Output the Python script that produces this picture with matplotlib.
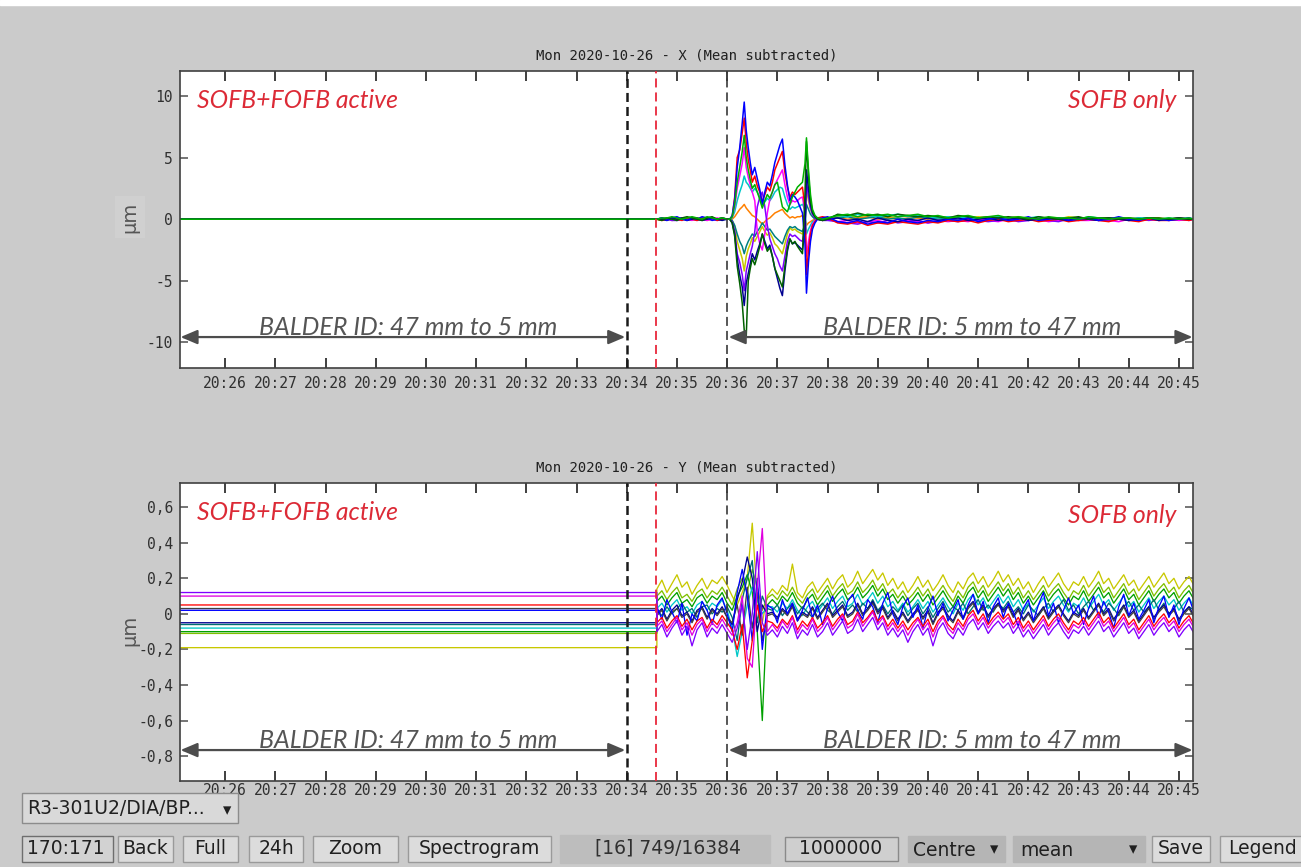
import numpy as np
import matplotlib
matplotlib.use("Agg")
import matplotlib.pyplot as plt
from matplotlib.patches import Rectangle

plt.rcParams["axes.unicode_minus"] = False
plt.rcParams["lines.scale_dashes"] = False

# ======================= DATA =======================
# time axis: minutes after 20:00
minute_ticks = list(range(26, 46))
minute_labels = ["20:%02d" % m for m in minute_ticks]
time_window = (25.10, 45.28)

t_black_1 = 34.00   # ID starts closing / arrow end
t_red = 34.58       # FOFB switched off
t_black_2 = 36.00   # ID starts opening

x_title = "Mon 2020-10-26 - X (Mean subtracted)"
y_title = "Mon 2020-10-26 - Y (Mean subtracted)"

x_yticks = [10, 5, 0, -5, -10]
x_ylabels = ["10", "5", "0", "-5", "-10"]
x_ylim = (-12.07, 12.02)

y_yticks = [0.6, 0.4, 0.2, 0.0, -0.2, -0.4, -0.6, -0.8]
y_ylabels = ["0,6", "0,4", "0,2", "0", "-0,2", "-0,4", "-0,6", "-0,8"]
y_ylim = (-0.94, 0.736)

# ---- X plane (values in tenths of um) ----
x_t_flat = [25.10]
x_t_pre = np.round(np.arange(34.6, 36.01, 0.1), 2)          # 15 samples
x_t_trans = [36.05, 36.10, 36.15, 36.20, 36.25, 36.30, 36.34, 36.38, 36.42, 36.46,
             36.50, 36.55, 36.60, 36.65, 36.70, 36.75, 36.80, 36.85, 36.90, 36.95,
             37.00, 37.05, 37.10, 37.15, 37.20, 37.25, 37.30, 37.35, 37.40, 37.45,
             37.50, 37.55, 37.58, 37.62, 37.66, 37.70, 37.75, 37.80, 37.90, 38.00]
x_t_post = list(np.round(np.arange(38.2, 45.21, 0.2), 2)) + [45.30]  # 37 samples

x_blue = [0,
    0, 1, -1, 1, 2, 0, -1, 1, 0, 2, 1, -1, 0, 1, 0,
    0, 3, 16, 42, 58, 78, 95, 72, 58, 46,
    36, 42, 33, 24, 12, 22, 30, 27, 36, 46,
    53, 60, 65, 44, 28, 15, 20, 18, 15, 10,
    5, -20, -60, -35, -18, -8, -3, 0, 1, 2,
    -2, -3, -1, -4, -2, -3, 0, -2, -3, -1, -2, 0,
    -1, 1, -2, 0, 1, -1, 0, 2, -1, 0, 1, -1,
    0, 1, -1, 0, 2, 0, -1, 1, 0, -1, 0, 1, 0]
x_red = [0,
    0, -1, 0, 1, 0, -1, 1, 0, -1, 1, 0, 1, -1, 0, 0,
    0, 2, 18, 50, 56, 70, 82, 62, 48, 40,
    30, 35, 27, 22, 14, 20, 26, 23, 30, 40,
    45, 50, 55, 38, 26, 18, 22, 20, 22, 24,
    26, 10, -45, -25, -12, -5, -2, 1, 2, 1,
    -3, -4, -2, -5, -3, -4, -2, -3, -4, -2, -3, -1,
    -2, -1, -3, -1, 0, -2, -1, 0, -2, -1, 0, -2,
    -1, 0, -1, -2, 0, -1, -2, 0, -1, -1, 0, -1, 0]
x_magenta = [0,
    0, 0, 1, -1, 0, 1, 0, -1, 1, 0, -1, 0, 1, 0, 0,
    0, 2, 10, 25, 35, 45, 58, 42, 34, 28,
    22, 15, -10, -20, -25, -12, 5, 16, 22, 28,
    32, 36, 40, 28, 18, 12, 15, 14, 15, 17,
    18, 5, -30, -18, -9, -4, -1, 0, 1, 0,
    -2, -1, -3, -2, -1, -3, -2, -1, -2, -3, -1, -2,
    -1, -2, 0, -1, -2, 0, -1, -1, 0, -2, -1, 0,
    -1, -1, 0, -1, -2, 0, -1, 0, -1, 0, -1, 0, 0]
x_cyan = [0,
    0, 1, 0, 0, 1, 1, 0, 1, 0, 1, 0, 1, 0, 0, 0,
    0, 1, 6, 15, 22, 28, 35, 30, 28, 25,
    22, 25, 22, 18, 12, 14, 17, 15, 18, 22,
    24, 26, 25, 18, 12, 8, 10, 9, 10, 11,
    12, 8, -12, -8, -5, -2, -1, 0, 0, 1,
    3, 2, 4, 3, 2, 3, 4, 2, 3, 2, 1, 2,
    1, 2, 0, 1, 2, 1, 0, 1, 2, 0, 1, 1,
    0, 2, 1, 0, 1, 0, 1, 1, 0, 1, 0, 1, 0]
x_orange = [0,
    0, 0, 0, 1, 0, 0, 1, 0, 0, 0, 1, 0, 0, 0, 0,
    0, 0, 2, 5, 8, 10, 12, 9, 7, 5,
    3, 2, 0, -2, -4, -2, 0, 1, 3, 5,
    6, 7, 8, 5, 3, 1, 2, 1, 2, 2,
    3, 1, -5, -3, -2, -1, 0, 0, 0, 0,
    1, 0, 1, 2, 0, 1, 0, 1, 1, 0, 1, 0,
    0, 1, 0, 1, 0, 0, 1, 0, 0, 1, 0, 0,
    1, 0, 0, 1, 0, 0, 1, 0, 0, 0, 1, 0, 0]
x_yellow = [0,
    0, -1, 0, -1, 0, 0, -1, 0, 1, 0, -1, 0, 0, 1, 0,
    0, -1, -6, -18, -25, -32, -42, -30, -24, -20,
    -15, -18, -14, -10, -6, -10, -13, -11, -15, -20,
    -22, -25, -28, -20, -12, -7, -9, -8, -10, -11,
    -12, -4, 25, 15, 8, 4, 1, 0, -1, 0,
    2, 3, 1, 2, 3, 1, 2, 3, 1, 2, 1, 2,
    0, 1, 2, 1, 0, 1, 2, 0, 1, 1, 0, 2,
    1, 0, 1, 1, 0, 1, 0, 1, 1, 0, 1, 0, 0]
x_purple = [0,
    0, 1, 0, -1, -1, 0, 1, 0, -1, 0, 1, 0, -1, 0, 0,
    0, -2, -10, -28, -35, -45, -58, -42, -35, -28,
    -22, -10, 10, 18, 22, 10, -5, -16, -22, -28,
    -32, -38, -42, -30, -18, -12, -14, -13, -15, -17,
    -18, -6, 30, 18, 9, 4, 1, 0, -1, -1,
    -2, -3, -4, -2, -3, -1, -3, -2, -1, -3, -2, -1,
    -2, 0, -1, -2, -1, 0, -2, -1, 0, -1, -2, 0,
    -1, 0, -1, -1, 0, -1, 0, -1, 0, -1, 0, -1, 0]
x_navy = [0,
    0, 0, -1, 1, 0, 1, -1, 0, 1, -1, 0, 1, 0, -1, 0,
    0, -3, -12, -32, -45, -55, -70, -52, -44, -36,
    -28, -33, -26, -20, -12, -18, -24, -21, -30, -40,
    -48, -56, -62, -42, -26, -16, -20, -19, -21, -23,
    -25, -10, 40, 24, 12, 5, 2, 0, -1, 0,
    1, -1, 0, -2, 1, -1, -2, 0, -1, 1, -1, 0,
    1, -1, 0, 1, -1, 0, 1, -1, 0, 1, 0, -1,
    1, 0, -1, 1, 0, -1, 0, 1, -1, 0, 1, 0, 0]
x_darkgreen = [0,
    0, -1, 1, 0, -1, 1, 2, 1, 0, -1, 1, 2, 0, 1, 0,
    0, -3, -14, -38, -52, -68, -90, -95, -50, -40,
    -32, -37, -30, -22, -12, -20, -26, -23, -30, -40,
    -45, -50, -55, -38, -24, -16, -20, -18, -22, -25,
    -28, 20, 63, 35, 15, 6, 2, 0, -1, 0,
    4, 3, 5, 3, 4, 2, 4, 3, 2, 3, 2, 1,
    3, 2, 1, 2, 1, 2, 1, 0, 2, 1, 0, 1,
    2, 0, 1, 1, 0, 1, 0, 1, 1, 0, 1, 0, 0]
x_green = [0,
    0, 1, 1, 2, 1, 0, 1, 2, 1, 0, 2, 1, 0, 1, 0,
    0, 2, 12, 30, 42, 55, 68, 50, 40, 32,
    25, 28, 22, 16, 9, 15, 20, 17, 22, 28,
    30, 20, 10, 8, 6, 12, 18, 22, 26, 28,
    30, 45, 66, 40, 20, 8, 3, 1, 0, 1,
    3, 4, 2, 4, 3, 4, 2, 3, 4, 2, 3, 1,
    2, 3, 1, 2, 3, 1, 2, 1, 0, 2, 1, 1,
    0, 2, 1, 0, 1, 1, 0, 1, 0, 1, 0, 1, 0]
x_teal = [0,
    0, 0, 1, 0, -1, 0, 0, 1, 0, -1, 0, 1, 0, 0, 0,
    0, -1, -5, -12, -18, -22, -28, -22, -18, -15,
    -12, -14, -10, -7, -3, -6, -9, -8, -11, -14,
    -16, -18, -20, -14, -9, -6, -7, -6, -8, -9,
    -10, -4, 12, 8, 4, 2, 0, 0, 0, 0,
    1, 2, 0, 1, 2, 0, 1, 0, 2, 1, 0, 1,
    0, 1, 0, 0, 1, 0, 1, 0, 0, 1, 0, 0,
    1, 0, 0, 1, 0, 0, 1, 0, 0, 0, 1, 0, 0]

# ---- Y plane (values in hundredths of um) ----
y_t_flat = [25.10, 34.60]
y_t_noise = np.round(np.arange(34.6, 45.31, 0.1), 2)           # 108 samples

y_flat_yellow, y_flat_ygreen, y_flat_green, y_flat_cyan = -19, -11, -10, -8
y_flat_teal, y_flat_navy, y_flat_blue, y_flat_gray = -6, -5, 2, 3
y_flat_red, y_flat_magenta, y_flat_purple = 5, 10, 12

y_yellow = [14, 19, 12, 17, 22, 15, 18, 11, 16, 20, 14, 19, 17, 21,
    16, 10, 5, 12, 20, 51, 8, -5, 10,
    14, 11, 16, 13, 28, 12, 9, 15, 18, 12, 16, 20, 14,
    19, 22, 15, 18, 24, 17, 21, 25, 19, 23, 16, 20,
    14, 18, 12, 16, 21, 15, 19, 13, 17, 22, 16, 12,
    18, 14, 20, 23, 17, 21, 15, 19, 24, 18, 22, 16,
    20, 14, 18, 12, 17, 21, 15, 19, 23, 17, 13, 18,
    16, 21, 15, 19, 24, 17, 20, 14, 18, 22, 16, 19,
    13, 17, 21, 15, 19, 23, 17, 20, 14, 18, 21, 16]
y_ygreen = [10, 13, 8, 12, 15, 9, 11, 7, 12, 14, 9, 13, 11, 15,
    10, 5, 14, 20, 12, 25, 15, 2, 9,
    11, 8, 13, 10, 15, 9, 6, 11, 14, 8, 12, 16, 10,
    14, 17, 11, 13, 18, 12, 15, 19, 13, 17, 11, 14,
    9, 13, 8, 11, 15, 10, 14, 8, 12, 16, 11, 7,
    13, 9, 15, 18, 12, 16, 10, 14, 18, 13, 17, 11,
    15, 9, 13, 8, 12, 16, 10, 14, 17, 12, 8, 13,
    11, 16, 10, 14, 18, 12, 15, 9, 13, 17, 11, 14,
    8, 12, 16, 10, 14, 17, 12, 15, 9, 13, 16, 11]
y_green = [7, 10, 5, 9, 12, 6, 8, 4, 9, 11, 6, 10, 8, 12,
    6, 2, 10, 15, 22, 12, -10, -60, 5,
    8, 5, 10, 7, 12, 6, 3, 8, 11, 5, 9, 13, 7,
    11, 14, 8, 10, 15, 9, 12, 16, 10, 14, 8, 11,
    6, 10, 5, 8, 12, 7, 11, 5, 9, 13, 8, 4,
    10, 6, 12, 15, 9, 13, 7, 11, 15, 10, 14, 8,
    12, 6, 10, 5, 9, 13, 7, 11, 14, 9, 5, 10,
    8, 13, 7, 11, 15, 9, 12, 6, 10, 14, 8, 11,
    5, 9, 13, 7, 11, 14, 9, 12, 6, 10, 13, 8]
y_cyan = [3, 6, 1, 5, 8, 2, 4, 0, 5, 7, 2, 6, 4, 8,
    2, -8, -24, -10, 5, 15, 8, 0, 4,
    4, 1, 6, 3, 8, 2, -1, 4, 7, 1, 5, 9, 3,
    7, 10, 4, 6, 11, 5, 8, 12, 6, 10, 4, 7,
    2, 6, 1, 4, 8, 3, 7, 1, 5, 9, 4, 0,
    6, 2, 8, 11, 5, 9, 3, 7, 11, 6, 10, 4,
    8, 2, 6, 1, 5, 9, 3, 7, 10, 5, 1, 6,
    4, 9, 3, 7, 11, 5, 8, 2, 6, 10, 4, 7,
    1, 5, 9, 3, 7, 10, 5, 8, 2, 6, 9, 4]
y_teal = [2, -1, 4, 0, 3, 6, 1, 3, -2, 4, 5, 0, 3, 1,
    4, -2, -15, 8, 20, 30, -5, 10, 3,
    2, 5, -1, 3, 6, 0, 4, 1, -2, 3, 6, 2, 0,
    4, 7, 2, 5, 1, 6, 3, 8, 2, 5, 0, 4,
    1, 5, -1, 3, 6, 0, 4, -2, 3, 7, 1, 4,
    2, 6, 0, 4, 8, 2, 5, 1, 6, 3, 7, 1,
    4, 0, 5, 2, -1, 3, 6, 1, 4, 8, 2, 5,
    0, 4, 7, 2, 5, 1, 6, 3, -1, 4, 7, 2,
    5, 1, 4, 8, 2, 6, 0, 3, 7, 1, 4, 2]
y_navy = [0, 3, -3, 2, 5, -1, 1, -4, 2, 4, -2, 3, 0, 4,
    -2, -6, 8, 18, 32, 20, -10, 5, 0,
    1, -2, 3, 0, 5, -3, 1, -1, 4, -2, 2, 6, -1,
    2, 5, -1, 1, 6, 0, 3, 7, 1, 4, -2, 2,
    -3, 1, -4, 0, 3, -2, 2, -5, 1, 4, -1, -4,
    2, -2, 4, 7, 1, 5, -1, 3, 6, 2, 5, -1,
    3, -3, 1, -4, 0, 4, -2, 2, 5, 0, -4, 1,
    -1, 3, -2, 2, 6, 0, 3, -3, 1, 5, -1, 2,
    -4, 0, 4, -2, 2, 5, 0, 3, -3, 1, 4, -1]
y_blue = [4, -3, 8, 1, -5, 6, -12, 0, -4, 7, 2, -6, 5, 9,
    0, -10, 12, 25, 10, -15, 20, -20, 5,
    3, -5, 8, 0, 6, -4, 2, 9, -2, 5, -6, 3, 10,
    1, -4, 7, 11, 2, -3, 8, 4, -5, 6, 12, 0,
    -6, 4, 9, -2, 5, -8, 3, 10, -1, 6, -4, 2,
    8, -3, 5, 11, 0, 7, -5, 4, 9, -2, 6, 1,
    -7, 3, 8, -4, 5, 12, -1, 6, -5, 2, 9, 0,
    5, -6, 3, 10, -2, 7, 1, -8, 4, 11, -1, 6,
    -3, 2, 8, -5, 4, 10, -2, 5, -6, 3, 9, 1]
y_gray = [-1, 2, -4, 1, 3, -2, 0, -5, 1, 3, -3, 2, -1, 3,
    -2, -5, 5, -12, 15, -8, 12, -15, -1,
    0, -3, 2, -1, 4, -4, 0, -2, 3, -3, 1, 5, -2,
    1, 4, -2, 0, 5, -1, 2, 6, 0, 3, -3, 1,
    -4, 0, -5, -1, 2, -3, 1, -6, 0, 3, -2, -5,
    1, -3, 3, 6, 0, 4, -2, 2, 5, 1, 4, -2,
    2, -4, 0, -5, -1, 3, -3, 1, 4, -1, -5, 0,
    -2, 2, -3, 1, 5, -1, 2, -4, 0, 4, -2, 1,
    -5, -1, 3, -3, 1, 4, -1, 2, -4, 0, 3, -2]
y_red = [-5, -2, -8, -4, -1, -7, -3, -9, -4, -2, -8, -3, -6, -1,
    -5, -9, -20, -6, -36, -15, 5, -10, -4,
    -5, -8, -3, -6, -1, -9, -4, -7, -2, -8, -5, -1, -7,
    -3, 0, -6, -4, 1, -5, -2, 2, -4, -1, -7, -3,
    -8, -4, -9, -5, -2, -7, -3, -10, -4, -1, -6, -9,
    -3, -7, -1, 2, -4, 0, -6, -2, 1, -3, 0, -6,
    -2, -8, -4, -9, -5, -1, -7, -3, 0, -5, -9, -4,
    -6, -2, -7, -3, 1, -5, -2, -8, -4, 0, -6, -3,
    -9, -5, -1, -7, -3, 0, -5, -2, -8, -4, -1, -6]
y_magenta = [-7, -4, -10, -6, -2, -9, -5, -12, -6, -3, -10, -5, -8, -3,
    -8, -12, -5, 10, -25, -30, 15, 48, -10,
    -6, -10, -4, -8, -2, -11, -6, -9, -3, -10, -7, -2, -9,
    -5, -1, -8, -6, 0, -7, -3, 1, -6, -2, -9, -5,
    -10, -6, -12, -7, -3, -9, -5, -13, -6, -2, -8, -11,
    -5, -9, -3, 0, -6, -2, -8, -4, -1, -5, -2, -8,
    -4, -10, -6, -11, -7, -3, -9, -5, -2, -7, -11, -6,
    -8, -4, -9, -5, -1, -7, -4, -10, -6, -2, -8, -5,
    -11, -7, -3, -9, -5, -2, -7, -4, -10, -6, -3, -8]
y_purple = [-10, -6, -13, -8, -4, -12, -7, -18, -9, -5, -13, -8, -11, -6,
    -11, -16, -8, 5, -20, 0, 35, -5, -12,
    -9, -13, -7, -11, -5, -14, -9, -12, -6, -13, -10, -5, -12,
    -8, -4, -11, -9, -3, -10, -6, -2, -9, -5, -12, -8,
    -13, -9, -16, -10, -6, -12, -8, -18, -9, -5, -11, -14,
    -8, -12, -6, -3, -9, -5, -11, -7, -4, -8, -5, -11,
    -7, -13, -9, -14, -10, -6, -12, -8, -5, -10, -14, -9,
    -11, -7, -12, -8, -4, -10, -7, -13, -9, -5, -11, -8,
    -14, -10, -6, -12, -8, -5, -10, -7, -13, -9, -6, -11]

# ======================= STYLE =======================
W, H = 1301, 867
BG = "#cbcbcb"
RED_TXT = "#dc2a36"
ARROW_C = "#4d4d4d"
MONO = "DejaVu Sans Mono"

x_traces = [
    (x_yellow, "#c8c800"), (x_orange, "#ff8000"), (x_teal, "#008080"),
    (x_cyan, "#00c8c8"), (x_magenta, "#ff00ff"), (x_purple, "#8000ff"),
    (x_red, "#ff0000"), (x_navy, "#000090"), (x_blue, "#0000ff"),
    (x_darkgreen, "#006000"), (x_green, "#00b000"),
]
y_traces = [
    (y_yellow, y_flat_yellow, "#c8c800"), (y_ygreen, y_flat_ygreen, "#80c000"),
    (y_green, y_flat_green, "#00a000"), (y_cyan, y_flat_cyan, "#00c8c8"),
    (y_teal, y_flat_teal, "#007070"), (y_navy, y_flat_navy, "#000090"),
    (y_gray, y_flat_gray, "#404040"), (y_blue, y_flat_blue, "#0000ff"),
    (y_red, y_flat_red, "#ff0000"), (y_magenta, y_flat_magenta, "#e000e0"),
    (y_purple, y_flat_purple, "#8000ff"),
]

fig = plt.figure(figsize=(W / 100, H / 100), dpi=100, facecolor=BG)


def fx(x):
    return x / W


def fy(y):
    return 1 - y / H


ax1 = fig.add_axes([fx(180), fy(368), 1013 / W, 297 / H])
ax2 = fig.add_axes([fx(180), fy(781), 1013 / W, 298 / H])

x_time = np.concatenate([x_t_flat, x_t_pre, x_t_trans, x_t_post])
for vals, col in x_traces:
    ax1.plot(x_time, np.array(vals) / 10.0, color=col, lw=1.1, zorder=2)

y_time = np.concatenate([y_t_flat, y_t_noise])
for vals, lvl, col in y_traces:
    v = np.concatenate([[lvl, lvl], vals]) / 100.0
    ax2.plot(y_time, v, color=col, lw=0.95, zorder=2)

for ax, title, yt, yl, ylim, pad_x in [
        (ax1, x_title, x_yticks, x_ylabels, x_ylim, 6),
        (ax2, y_title, y_yticks, y_ylabels, y_ylim, 1.5)]:
    ax.set_facecolor("white")
    ax.set_xlim(*time_window)
    ax.set_ylim(*ylim)
    ax.set_xticks(minute_ticks)
    ax.set_xticklabels(minute_labels, family=MONO, fontsize=10.5, color="#303030")
    ax.set_yticks(yt)
    ax.set_yticklabels(yl, family=MONO, fontsize=10.5, color="#303030")
    ax.tick_params(axis="x", direction="in", top=True, bottom=True,
                   length=7.5, width=1.3, color="#303030", pad=pad_x)
    ax.tick_params(axis="y", direction="in", left=True, right=True,
                   length=5.5, width=1.1, color="#505050", pad=5)
    for sp in ax.spines.values():
        sp.set_linewidth(1.2)
        sp.set_color("#404040")
    ax.set_title(title, family=MONO, fontsize=10, color="#202020", pad=8)

    ax.axvline(t_black_1, color="#1a1a1a", lw=1.8, dashes=(6.5, 3.6), zorder=5)
    ax.axvline(t_red, color="#e8283c", lw=1.3, dashes=(6.5, 3.6), zorder=5)
    ax.axvline(t_black_2, color="#3a3a3a", lw=1.2, dashes=(6.5, 3.6), zorder=5)

# annotations
for ax, y_arrow, y_txt, y_red1, y_red2 in [
        (ax1, -9.56, -9.40, 9.59, 9.64),
        (ax2, -0.766, -0.754, 0.569, 0.552)]:
    ap = dict(arrowstyle="<|-|>,head_length=0.85,head_width=0.36",
              mutation_scale=12, color=ARROW_C, lw=1.6, shrinkA=0, shrinkB=0)
    ax.annotate("", xy=(t_black_1 - 0.03, y_arrow), xytext=(time_window[0] + 0.01, y_arrow),
                arrowprops=ap, annotation_clip=False, zorder=6)
    ax.annotate("", xy=(time_window[1] - 0.01, y_arrow), xytext=(t_black_2 + 0.03, y_arrow),
                arrowprops=ap, annotation_clip=False, zorder=6)
    ax.text(29.64, y_txt, "BALDER ID: 47 mm to 5 mm", ha="center", va="baseline",
            color="#555555", fontsize=18, style="italic", family="Lato", zorder=6)
    ax.text(40.88, y_txt, "BALDER ID: 5 mm to 47 mm", ha="center", va="baseline",
            color="#555555", fontsize=18, style="italic", family="Lato", zorder=6)
    ax.text(25.44, y_red1, "SOFB+FOFB active", ha="left", va="center",
            color=RED_TXT, fontsize=17.8, style="italic", family="Lato", zorder=6)
    ax.text(44.94, y_red2, "SOFB only", ha="right", va="center",
            color=RED_TXT, fontsize=17.8, style="italic", family="Lato", zorder=6)

# y-axis unit labels
fig.text(fx(130), fy(217), "\u00b5m", rotation=90, ha="center", va="center",
         fontsize=14, color="#555555",
         bbox=dict(boxstyle="square,pad=0.3", fc="#d0d0d0", ec="none"))
fig.text(fx(130), fy(630), "\u00b5m", rotation=90, ha="center", va="center",
         fontsize=14, color="#555555")


# ---------------- GUI widgets ----------------
def gui_box(x0, y0, x1, y1, fc, ec=None, lw=1.0):
    fig.add_artist(Rectangle((fx(x0), fy(y1)), (x1 - x0) / W, (y1 - y0) / H,
                             transform=fig.transFigure, facecolor=fc,
                             edgecolor=ec if ec else fc, linewidth=lw, zorder=20))


def gui_text(x, y, s, ha="center", size=13, color="#202020"):
    fig.text(fx(x), fy(y), s, ha=ha, va="center", fontsize=size, color=color,
             family="DejaVu Sans", zorder=21)


gui_box(0, 0, W, 5, "white")

gui_box(22, 793, 238, 823, "#d9d9d9", "#8c8c8c")
gui_text(27, 808, "R3-301U2/DIA/BP...", ha="left", size=13.5)
gui_text(227, 810, "\u25be", size=12)

gui_box(22, 836, 113, 862, "#d2d2d2", "#6e6e6e")
gui_text(27, 849, "170:171", ha="left", size=13.5)

for x0, x1, lab in [(118, 173, "Back"), (183, 238, "Full"), (249, 303, "24h"),
                    (313, 398, "Zoom"), (408, 551, "Spectrogram"),
                    (1152, 1210, "Save"), (1220, 1305, "Legend")]:
    gui_box(x0, 836, x1, 862, "#dcdcdc", "#9a9a9a")
    gui_text((x0 + x1) / 2, 849, lab, size=13.5)

gui_box(560, 835, 770, 863, "#bdbdbd")
gui_text(668, 848, "[16] 749/16384", size=13.5, color="#303030")

gui_box(785, 837, 898, 861, "#cfcfcf", "#8a8a8a")
gui_text(841, 849, "1000000", size=13.5)

gui_box(908, 836, 1005, 862, "#b5b5b5")
gui_text(913, 850, "Centre", ha="left", size=13.5)
gui_text(994, 849, "\u25be", size=12)

gui_box(1013, 836, 1145, 862, "#b5b5b5")
gui_text(1020, 850, "mean", ha="left", size=13.5)
gui_text(1133, 849, "\u25be", size=12)

fig.savefig("out.png", dpi=100, facecolor=BG)
